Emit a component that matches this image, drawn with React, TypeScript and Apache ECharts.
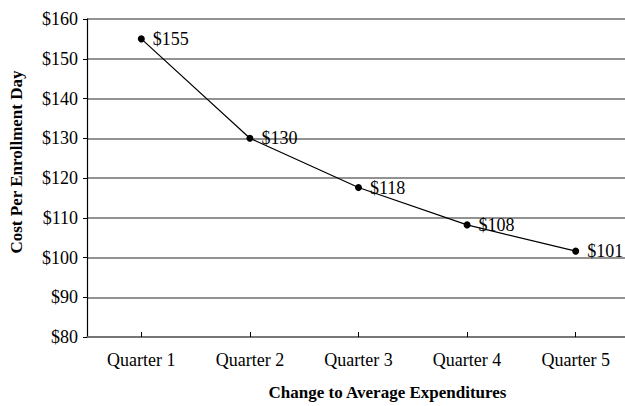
import React, { useEffect, useRef } from "react";
import * as echarts from "echarts";

const categories = ["Quarter 1", "Quarter 2", "Quarter 3", "Quarter 4", "Quarter 5"];
const costValues = [155, 130, 117.6, 108.2, 101.6];
const costLabels = ["$155", "$130", "$118", "$108", "$101"];

const FONT = "Liberation Serif";

export default function App() {
  const ref = useRef<HTMLDivElement>(null);
  useEffect(() => {
    if (!ref.current) return;
    const chart = echarts.init(ref.current, null, { renderer: "svg" });
    chart.setOption({
      animation: false,
      backgroundColor: "#ffffff",
      textStyle: { fontFamily: FONT },
      grid: { left: 82, right: 0, top: 19, bottom: 67, containLabel: false },
      xAxis: {
        type: "category",
        data: categories,
        boundaryGap: true,
        name: "Change to Average Expenditures",
        nameLocation: "middle",
        nameGap: 47,
        nameTextStyle: { fontFamily: FONT, fontWeight: "bold", fontSize: 17, color: "#000", padding: [0, 0, 0, 58] },
        axisLine: { show: true, lineStyle: { color: "#6e6e6e", width: 1.5 } },
        axisTick: { show: true, alignWithLabel: true, inside: true, length: 5, lineStyle: { color: "#000" } },
        axisLabel: { fontFamily: FONT, fontSize: 18, color: "#000", margin: 14 },
        splitLine: { show: false },
      },
      yAxis: {
        type: "value",
        min: 80,
        max: 160,
        interval: 10,
        name: "Cost Per Enrollment Day",
        nameLocation: "middle",
        nameGap: 62,
        nameTextStyle: { fontFamily: FONT, fontWeight: "bold", fontSize: 17, color: "#000", padding: [0, 0, 0, 32] },
        axisLine: { show: true, lineStyle: { color: "#000", width: 1.2 } },
        axisTick: { show: true, length: 4, lineStyle: { color: "#000" } },
        axisLabel: {
          fontFamily: FONT,
          fontSize: 18,
          color: "#000",
          margin: 9,
          formatter: (v: number) => "$" + v,
        },
        splitLine: { show: true, lineStyle: { color: "#6e6e6e", width: 1.5 } },
      },
      series: [
        {
          type: "line",
          data: costValues,
          symbol: "circle",
          symbolSize: 7,
          itemStyle: { color: "#000" },
          lineStyle: { color: "#000", width: 1.2 },
          label: {
            show: true,
            position: "right",
            distance: 8,
            fontFamily: FONT,
            fontSize: 18,
            color: "#000",
            formatter: (p: any) => costLabels[p.dataIndex],
          },
        },
      ],
    });
    return () => chart.dispose();
  }, []);
  return (
    <div style={{ position: "absolute", left: 0, top: 0, width: 625, height: 406, overflow: "hidden" }}>
      <div ref={ref} style={{ width: 630, height: 406 }} />
    </div>
  );
}
